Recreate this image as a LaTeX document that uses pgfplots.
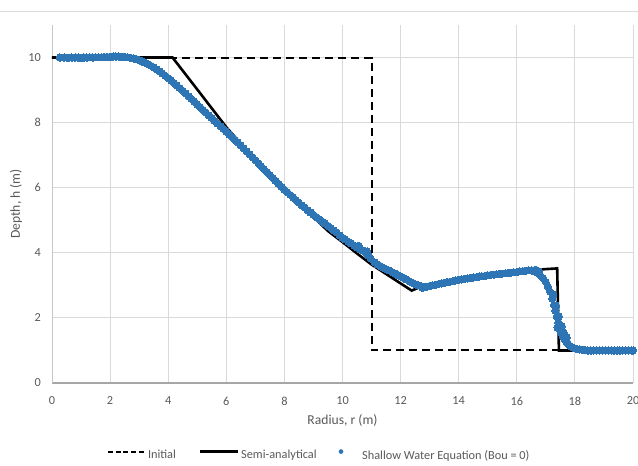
\documentclass[border=0pt]{standalone}
\usepackage{fontspec}
\setmainfont{Carlito}
\usepackage{pgfplots}
\pgfplotsset{compat=1.18}
\definecolor{swe}{HTML}{2E75B6}
\definecolor{txt}{HTML}{595959}
\definecolor{grd}{HTML}{D9D9D9}
\begin{document}
\begin{tikzpicture}
\begin{axis}[name=ax, scale only axis, width=581bp, height=358bp,
  xmin=0, xmax=20, ymin=0, ymax=11,
  xtick={0,2,...,20}, ytick={0,2,...,10},
  axis lines*=left,
  x axis line style={color=black!35, line width=1.6bp},
  y axis line style={color=black!22, line width=0.9bp},
  grid=major, major grid style={color=grd, line width=0.9bp},
  tick style={draw=none},
  /pgf/number format/assume math mode=true,
  tick label style={font=\fontsize{12.3bp}{14bp}\selectfont, text=txt, inner sep=0pt},
  xticklabel style={yshift=-13.5bp},
  yticklabel style={xshift=-11bp},
  xlabel={Radius, r (m)}, ylabel={Depth, h (m)},
  every axis x label/.style={at={(axis description cs:0.5,-0.0866)}, anchor=north, inner sep=0pt,
    font=\fontsize{13.6bp}{16bp}\selectfont, text=txt},
  every axis y label/.style={at={(axis description cs:-0.062,0.5)}, rotate=90, anchor=center, inner sep=0pt,
    font=\fontsize{13.6bp}{16bp}\selectfont, text=txt},
  legend columns=-1,
  legend style={at={(axis description cs:0.0947,-0.201)}, anchor=west, draw=none, fill=none,
    inner sep=0pt, outer sep=0pt, font=\fontsize{12.3bp}{14bp}\selectfont, text=txt,
    nodes={inner sep=0pt},
    /tikz/every odd column/.append style={column sep=2bp},
    /tikz/every even column/.append style={column sep=22bp}},
  clip=false,
]
\addplot[black, line width=2bp, dash pattern=on 8bp off 5bp,
  legend image code/.code={\draw[black, line width=2bp, dash pattern=on 5bp off 2.7bp] (0bp,3.8bp) -- (37bp,3.8bp);}]
  coordinates {(0,10) (11,10) (11,1) (20,1)};
\addlegendentry{Initial}
\addplot[black, line width=2.6bp, line join=miter,
  legend image code/.code={\draw[black, line width=3.2bp] (0bp,3.8bp) -- (38bp,3.8bp);}]
  coordinates {(0,10) (4.15,10) (5,9.02) (5.5,8.44) (6,7.86) (6.5,7.35) (7,6.88) (7.5,6.42)
  (8,5.96) (8.5,5.52) (9,5.10) (9.5,4.67) (10,4.33) (10.5,3.98) (11,3.64) (11.5,3.35)
  (12,3.06) (12.38,2.84) (12.6,2.92) (13,2.99) (13.5,3.07) (14,3.15) (14.5,3.22) (15,3.29)
  (15.5,3.35) (16,3.41) (16.5,3.46) (17,3.50) (17.39,3.52) (17.45,1.0) (20,1.0)};
\addlegendentry{Semi-analytical}
\addplot[only marks, color=swe, mark=*, mark size=3.6bp, mark options={draw=swe, fill=swe, line width=0pt},
  legend image code/.code={\fill[swe] (19bp,3.8bp) circle (2.1bp); \path (38bp,0bp);}]
  table {
x y
0.27 10.00
0.42 10.00
0.55 9.99
0.68 10.00
0.80 10.00
0.90 10.00
1.00 9.99
1.10 10.00
1.20 10.00
1.30 10.01
1.40 10.00
1.50 10.01
1.60 10.01
1.70 10.01
1.80 10.02
1.90 10.02
2.00 10.02
2.10 10.03
2.20 10.03
2.30 10.03
2.40 10.02
2.50 10.02
2.60 10.01
2.70 9.99
2.80 9.97
2.90 9.95
3.00 9.92
3.10 9.88
3.20 9.84
3.30 9.80
3.40 9.75
3.50 9.70
3.60 9.64
3.70 9.58
3.80 9.51
3.90 9.44
4.00 9.37
4.10 9.30
4.20 9.22
4.30 9.14
4.40 9.06
4.50 8.98
4.60 8.90
4.70 8.81
4.80 8.73
4.90 8.65
5.00 8.56
5.10 8.48
5.20 8.39
5.30 8.31
5.40 8.22
5.50 8.14
5.60 8.05
5.70 7.97
5.80 7.89
5.90 7.81
6.00 7.73
6.10 7.64
6.20 7.56
6.30 7.47
6.40 7.39
6.50 7.30
6.60 7.21
6.70 7.12
6.80 7.03
6.90 6.94
7.00 6.85
7.10 6.76
7.20 6.66
7.30 6.57
7.40 6.48
7.50 6.39
7.60 6.30
7.70 6.21
7.80 6.12
7.90 6.03
8.00 5.94
8.10 5.86
8.20 5.78
8.30 5.70
8.40 5.62
8.50 5.54
8.60 5.46
8.70 5.39
8.80 5.31
8.90 5.24
9.00 5.17
9.10 5.10
9.20 5.03
9.30 4.96
9.40 4.90
9.50 4.83
9.60 4.76
9.70 4.69
9.80 4.62
9.90 4.54
10.00 4.46
10.10 4.41
10.20 4.34
10.30 4.29
10.40 4.22
10.50 4.17
10.55 4.22
10.60 4.11
10.70 4.07
10.80 4.00
10.85 4.04
10.90 3.91
10.97 3.82
11.10 3.71
11.20 3.64
11.30 3.59
11.40 3.54
11.50 3.50
11.60 3.46
11.70 3.41
11.80 3.37
11.90 3.32
12.00 3.27
12.10 3.23
12.20 3.18
12.30 3.13
12.40 3.08
12.50 3.04
12.60 3.00
12.70 2.98
12.75 2.92
12.80 2.96
12.90 2.96
13.00 2.98
13.10 3.00
13.20 3.02
13.30 3.04
13.40 3.06
13.50 3.08
13.60 3.10
13.70 3.11
13.80 3.13
13.90 3.15
14.00 3.17
14.10 3.18
14.20 3.20
14.30 3.21
14.40 3.23
14.50 3.24
14.60 3.25
14.70 3.27
14.80 3.28
14.90 3.29
15.00 3.31
15.10 3.32
15.20 3.33
15.30 3.34
15.40 3.35
15.50 3.36
15.60 3.37
15.70 3.38
15.80 3.39
15.90 3.40
16.00 3.41
16.10 3.43
16.20 3.44
16.30 3.45
16.40 3.46
16.50 3.46
16.60 3.43
16.65 3.48
16.70 3.39
16.75 3.44
16.80 3.32
16.90 3.22
17.00 3.10
17.08 2.95
17.15 2.80
17.22 2.60
17.25 2.72
17.28 2.40
17.33 2.22
17.35 2.38
17.38 2.04
17.40 1.70
17.43 1.86
17.45 2.05
17.48 1.68
17.53 1.54
17.55 1.75
17.58 1.44
17.62 1.55
17.64 1.36
17.70 1.28
17.72 1.40
17.76 1.21
17.83 1.14
17.90 1.10
17.98 1.07
18.06 1.05
18.15 1.03
18.25 1.02
18.35 1.01
18.45 1.00
18.55 1.00
18.65 1.00
18.75 1.00
18.85 1.00
18.95 1.00
19.05 1.00
19.15 1.00
19.25 1.00
19.35 1.00
19.45 1.00
19.55 1.00
19.65 1.00
19.75 1.00
19.85 1.00
19.95 1.00
20.00 1.00
};
\addlegendentry{Shallow Water Equation (Bou = 0)}
\end{axis}
\draw[grd, line width=0.8bp] ([xshift=-52bp,yshift=14bp]ax.north west) -- ([xshift=5bp,yshift=14bp]ax.north east);
\pgfresetboundingbox
\path[use as bounding box] ([xshift=-52bp,yshift=-83bp]ax.south west) rectangle ([xshift=5bp,yshift=25bp]ax.north east);
\end{tikzpicture}
\end{document}
